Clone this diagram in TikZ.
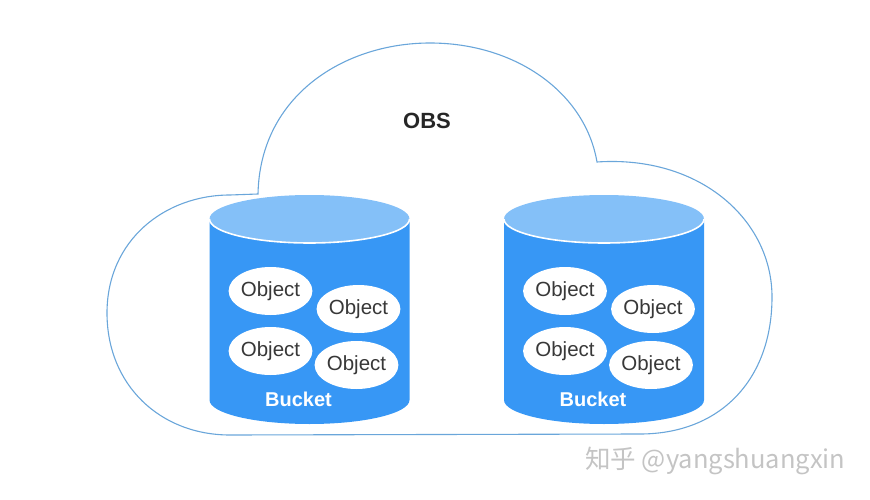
\documentclass[tikz,border=0pt]{standalone}
\usepackage{fontspec}
\setmainfont{Liberation Sans}
\newfontfamily\cjkfont{Noto Sans CJK SC}
\usetikzlibrary{positioning, shapes.geometric}
\definecolor{azulcubo}{HTML}{3797F5}
\definecolor{azultapa}{HTML}{84C0F8}
\definecolor{azulnube}{HTML}{6AA6DA}
\definecolor{grisobjeto}{HTML}{383838}
\definecolor{grismarca}{HTML}{C4C4C4}
\tikzset{
  nube/.style={draw=azulnube, line width=1.1pt},
  tapaBorde/.style={draw=white, line width=1.6pt},
  objeto/.style={
    ellipse, fill=white, inner sep=0pt,
    minimum width=81pt, minimum height=48pt,
    font=\fontsize{20.5}{22}\selectfont, text=grisobjeto
  },
  etiquetaCubo/.style={font=\bfseries\fontsize{20}{22}\selectfont, text=white},
  titulo/.style={font=\bfseries\fontsize{22}{24}\selectfont, text=black!85},
  marca/.style={font=\cjkfont\fontsize{25.5}{27}\selectfont, text=grismarca},
}
\begin{document}
\begin{tikzpicture}[x=1pt, y=-1pt]
    \useasboundingbox (0,0) rectangle (870,500);
    % nube
    \draw[nube] (258,194) .. controls (260,95) and (345,43) .. (430,43)
      .. controls (515,43) and (585,92) .. (597,162)
      .. controls (700,155) and (772,220) .. (772,297)
      .. controls (772,380) and (720,434) .. (640,434)
      -- (230,435)
      .. controls (160,435) and (107,385) .. (107,313)
      .. controls (107,240) and (165,195) .. (230,195) -- cycle;
    \node[titulo] (obs) at (427,121) {OBS};
    % cubos
    \foreach \cx/\nm in {309.5/a, 604/b} {
      \fill[azulcubo] (\cx-100,219) -- (\cx-100,400)
        arc[start angle=180, end angle=360, x radius=100pt, y radius=24pt]
        -- (\cx+100,219) -- cycle;
      \fill[azultapa] (\cx,219) ellipse[x radius=100pt, y radius=24pt];
      \draw[tapaBorde] (\cx-100,219)
        arc[start angle=180, end angle=360, x radius=100pt, y radius=24pt];
      \node[objeto] (obj\nm1) at (\cx-39,291) {Object};
      \node[objeto] (obj\nm2) at (\cx+49,309) {Object};
      \node[objeto] (obj\nm3) at (\cx-39,351) {Object};
      \node[objeto] (obj\nm4) at (\cx+47,365) {Object};
      \node[etiquetaCubo] (cubo\nm) at (\cx-11,399) {Bucket};
    }
    \node[marca, anchor=east] (marca) at (849,461) {知乎 @yangshuangxin};
  \end{tikzpicture}
\end{document}
